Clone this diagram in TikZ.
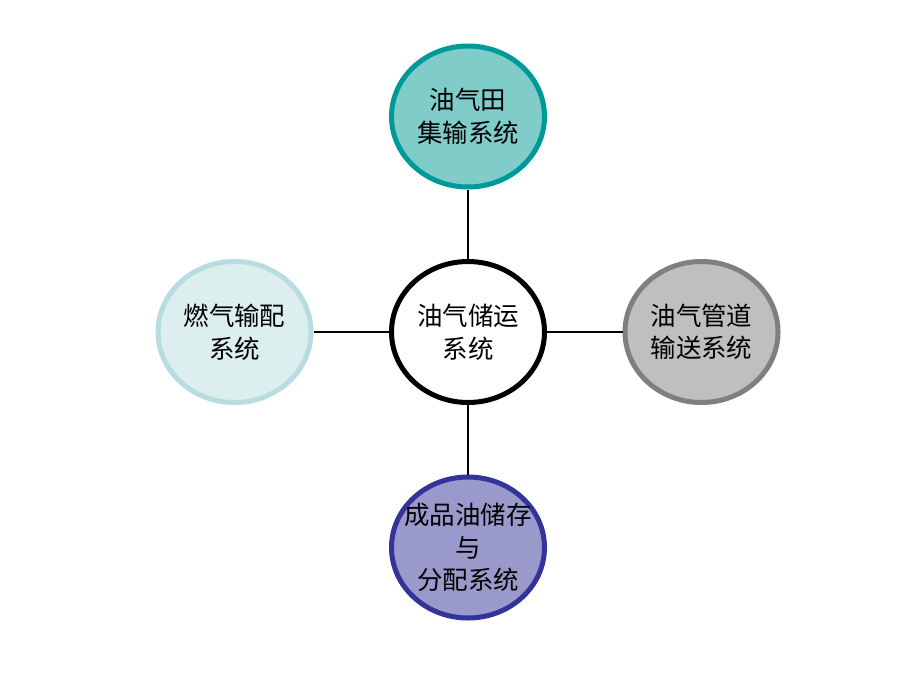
\documentclass[tikz,border=0pt]{standalone}
\usepackage{fontspec}
\setmainfont{Noto Sans CJK SC}
\usetikzlibrary{positioning}
\usetikzlibrary{shapes.geometric}
\definecolor{fieldfill}{HTML}{7FCCC9}
\definecolor{fieldline}{HTML}{009999}
\definecolor{gasfill}{HTML}{DDEEEF}
\definecolor{gasline}{HTML}{B7DDE0}
\definecolor{pipefill}{HTML}{BFBFBF}
\definecolor{pipeline}{HTML}{7F7F7F}
\definecolor{depotfill}{HTML}{9999CC}
\definecolor{depotline}{HTML}{333399}
\tikzset{
    sys/.style = {ellipse,line width=0.1cm,minimum width=3.06cm,minimum height=2.82cm,
        inner sep=0,align=center,font=\fontsize{14.5}{18.5}\selectfont},
    spoke/.style = {line width=0.05cm}
}

\begin{document}
\begin{tikzpicture}
    \newcommand\hsep{4.67}
    \newcommand\vsep{-4.31}
    \useasboundingbox (0,0) rectangle (18.4,-13.8);
    % Hub
    \path (9.36,-6.64) node[sys,draw=black,fill=white] (core) {油气储运\\系统};
    % Subsystems
    \path (core)
        to +(0,-1*\vsep) node[sys,draw=fieldline,fill=fieldfill] (field) {油气田\\集输系统}
        to +(0,1*\vsep) node[sys,draw=depotline,fill=depotfill,inner xsep=-0.4cm,inner ysep=-0.3cm] (depot) {成品油储存\\与\\分配系统}
    ;
    \path (core)
        to +(-1*\hsep,0) node[sys,draw=gasline,fill=gasfill] (gas) {燃气输配\\系统}
        to +(1*\hsep,0) node[sys,draw=pipeline,fill=pipefill] (pipe) {油气管道\\输送系统}
    ;
    % Spokes
    \foreach \dest in {field,depot,gas,pipe}
        \draw[spoke] (core) to (\dest);
\end{tikzpicture}
\end{document}
